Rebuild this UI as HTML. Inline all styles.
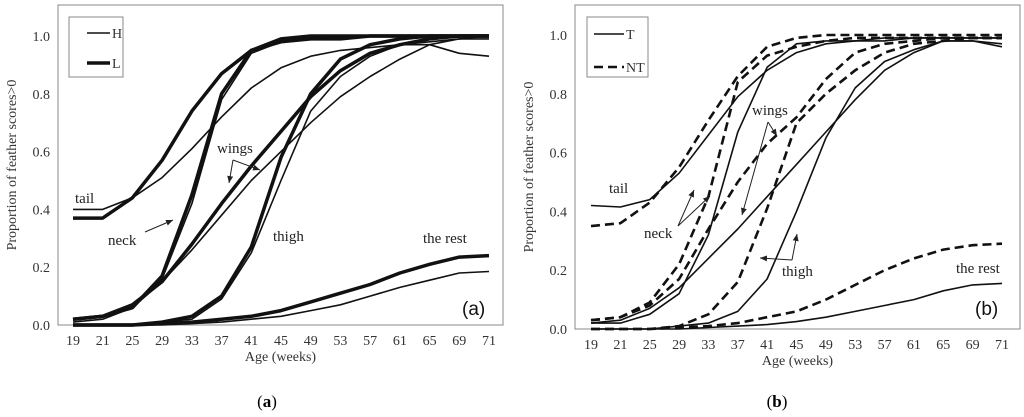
<!DOCTYPE html>
<html><head><meta charset="utf-8"><style>
html,body{margin:0;padding:0;background:#fff;}
svg{display:block;font-family:"Liberation Serif",serif;}
.t{fill:#333;font-size:14px;}
.ann{fill:#222;font-size:15px;}
</style></head><body>
<svg id="s" width="1024" height="417" viewBox="0 0 1024 417">
<defs><marker id="ar" markerWidth="8" markerHeight="8" refX="7" refY="4" orient="auto"><path d="M0,1 L7,4 L0,7Z" fill="#222"/></marker></defs>
</svg>
<script>
const categories=["19","21","25","29","33","37","41","45","49","53","57","61","65","69","71"];
const yTicks=[0,0.2,0.4,0.6,0.8,1.0];
// panel a
const aTailH=[0.40,0.40,0.44,0.51,0.61,0.72,0.82,0.89,0.93,0.95,0.96,0.97,0.97,0.94,0.93];
const aTailL=[0.37,0.37,0.44,0.57,0.74,0.87,0.95,0.98,0.99,0.99,1,1,1,1,1];
const aNeckL=[0.02,0.03,0.06,0.17,0.45,0.80,0.95,0.99,1,1,1,1,1,1,1];
const aNeckH=[0.02,0.03,0.07,0.16,0.42,0.78,0.94,0.98,0.99,1,1,1,1,1,1];
const aWingsL=[0.02,0.03,0.07,0.15,0.28,0.42,0.55,0.67,0.79,0.88,0.94,0.97,0.99,1,1];
const aWingsH=[0.01,0.02,0.06,0.15,0.26,0.38,0.50,0.60,0.70,0.79,0.86,0.92,0.97,0.99,0.99];
const aThighL=[0,0,0,0.01,0.03,0.10,0.27,0.58,0.80,0.92,0.97,0.99,1,1,1];
const aThighH=[0,0,0,0.01,0.02,0.09,0.25,0.50,0.74,0.86,0.93,0.97,0.98,0.99,1];
const aRestL=[0,0,0,0.005,0.01,0.02,0.03,0.05,0.08,0.11,0.14,0.18,0.21,0.235,0.24];
const aRestH=[0,0,0,0,0.005,0.01,0.02,0.03,0.05,0.07,0.10,0.13,0.155,0.18,0.185];
// panel b
const bTailT=[0.42,0.415,0.44,0.53,0.66,0.79,0.88,0.94,0.97,0.98,0.99,0.99,0.99,0.99,0.99];
const bTailNT=[0.35,0.36,0.43,0.55,0.71,0.86,0.96,0.99,1,1,1,1,1,1,1];
const bNeckT=[0.02,0.02,0.05,0.12,0.32,0.67,0.89,0.97,0.98,0.98,0.98,0.99,0.99,0.99,0.99];
const bNeckNT=[0.03,0.04,0.09,0.22,0.45,0.84,0.93,0.96,0.98,0.99,0.99,0.99,0.99,0.99,0.99];
const bWingsT=[0.02,0.03,0.07,0.14,0.24,0.34,0.45,0.56,0.67,0.78,0.88,0.94,0.98,0.98,0.97];
const bWingsNT=[0.03,0.04,0.08,0.17,0.34,0.50,0.63,0.72,0.85,0.94,0.97,0.98,0.99,0.99,0.99];
const bThighT=[0,0,0,0.01,0.02,0.06,0.17,0.40,0.65,0.82,0.91,0.95,0.98,0.98,0.96];
const bThighNT=[0,0,0,0.01,0.05,0.16,0.41,0.70,0.80,0.88,0.94,0.97,0.98,0.99,0.99];
const bRestT=[0,0,0,0,0.005,0.01,0.015,0.025,0.04,0.06,0.08,0.10,0.13,0.15,0.155];
const bRestNT=[0,0,0,0.005,0.01,0.02,0.04,0.06,0.10,0.15,0.20,0.24,0.27,0.285,0.29];

const S=document.getElementById('s');const NS='http://www.w3.org/2000/svg';
function el(tag,attrs,p){const e=document.createElementNS(NS,tag);for(const k in attrs)e.setAttribute(k,attrs[k]);(p||S).appendChild(e);return e;}
function txt(x,y,s,cls,anchor,p){const t=el('text',{x:x,y:y,class:cls,'text-anchor':anchor||'start'},p);t.textContent=s;return t;}

function panel(P){
  const g=el('g',{});
  
  
  const X=i=>P.x0+i*(P.x1-P.x0)/(categories.length-1);
  const Y=v=>P.y0-v*(P.y0-P.y1);
  const box=el('rect',{x:P.bx,y:5,width:P.bw,height:P.y0-5,fill:'none',stroke:'#888','stroke-width':1},g);
  
  
  yTicks.forEach(v=>{const t=txt(P.bx-8,Y(v)+5,v.toFixed(1),'t','end',g);
    
    });
  categories.forEach((c,i)=>{const t=txt(X(i),P.y0+20,c,'t','middle',g);
    
    });
  const xt=txt((P.bx+P.bx+P.bw)/2,P.y0+36,'Age (weeks)','t','middle',g);
  
  
  const yt=txt(0,0,'Proportion of feather scores>0','t','middle',g);
  yt.setAttribute('transform',`translate(${P.bx-42},${(5+P.y0)/2}) rotate(-90)`);
  
  
  P.series.forEach(s=>{
    const d=s.v.map((v,i)=>(i?'L':'M')+X(i).toFixed(1)+','+Y(v).toFixed(1)).join(' ');
    const pa=el('path',{d:d,fill:'none',stroke:'#111','stroke-width':s.w,'stroke-dasharray':s.dash||'none','stroke-linejoin':'round'},g);
    
    
  });
  return g;
}
panel({name:'panel-a',bx:58,bw:445,x0:73,x1:489,y0:325,y1:36,series:[
 {n:'tail-h',v:aTailH,w:1.6},{n:'tail-l',v:aTailL,w:3.5},
 {n:'neck-h',v:aNeckH,w:1.6},{n:'neck-l',v:aNeckL,w:3.5},
 {n:'wings-h',v:aWingsH,w:1.6},{n:'wings-l',v:aWingsL,w:3.5},
 {n:'thigh-h',v:aThighH,w:1.6},{n:'thigh-l',v:aThighL,w:3.5},
 {n:'rest-h',v:aRestH,w:1.6},{n:'rest-l',v:aRestL,w:3.5}]});
panel({name:'panel-b',bx:575,bw:445,x0:591,x1:1002,y0:329,y1:35,series:[
 {n:'tail-t',v:bTailT,w:1.6},{n:'tail-nt',v:bTailNT,w:2.6,dash:'9,5'},
 {n:'neck-t',v:bNeckT,w:1.6},{n:'neck-nt',v:bNeckNT,w:2.6,dash:'9,5'},
 {n:'wings-t',v:bWingsT,w:1.6},{n:'wings-nt',v:bWingsNT,w:2.6,dash:'9,5'},
 {n:'thigh-t',v:bThighT,w:1.6},{n:'thigh-nt',v:bThighNT,w:2.6,dash:'9,5'},
 {n:'rest-t',v:bRestT,w:1.6},{n:'rest-nt',v:bRestNT,w:2.6,dash:'9,5'}]});
</script>
<svg style="position:absolute;left:0;top:0" width="1024" height="417">
<g>
<rect x="69" y="17" width="54" height="60" fill="#fff" stroke="#888"/>
<line x1="87" y1="33" x2="110" y2="33" stroke="#111" stroke-width="1.6"/><text x="112" y="38" class="t">H</text>
<line x1="87" y1="63" x2="110" y2="63" stroke="#111" stroke-width="3.5"/><text x="112" y="68" class="t">L</text>
</g>
<g>
<rect x="587" y="17" width="61" height="60" fill="#fff" stroke="#888"/>
<line x1="594" y1="34" x2="624" y2="34" stroke="#111" stroke-width="1.6"/><text x="626" y="39" class="t">T</text>
<line x1="594" y1="67" x2="624" y2="67" stroke="#111" stroke-width="2.6" stroke-dasharray="9,5"/><text x="626" y="72" class="t">NT</text>
</g>
<g class="ann">
<text x="75" y="203" class="ann">tail</text>
<text x="108" y="245" class="ann">neck</text>
<line x1="145" y1="232" x2="173" y2="220" stroke="#222" marker-end="url(#ar)"/>
<text x="217" y="153" class="ann">wings</text>
<line x1="233" y1="160" x2="229" y2="183" stroke="#222" marker-end="url(#ar)"/>
<line x1="233" y1="160" x2="260" y2="170" stroke="#222" marker-end="url(#ar)"/>
<text x="273" y="241" class="ann">thigh</text>
<text x="423" y="243" class="ann">the rest</text>
<text x="462" y="315" style="font-family:'Liberation Sans',sans-serif;font-size:19px;fill:#111">(a)</text>
</g>
<g>
<text x="609" y="193" class="ann">tail</text>
<text x="644" y="238" class="ann">neck</text>
<line x1="678" y1="226" x2="694" y2="190" stroke="#222" marker-end="url(#ar)"/>
<line x1="678" y1="226" x2="710" y2="196" stroke="#222" marker-end="url(#ar)"/>
<text x="752" y="115" class="ann">wings</text>
<line x1="768" y1="122" x2="742" y2="215" stroke="#222" marker-end="url(#ar)"/>
<line x1="768" y1="122" x2="777" y2="136" stroke="#222" marker-end="url(#ar)"/>
<text x="782" y="276" class="ann">thigh</text>
<line x1="792" y1="260" x2="797" y2="234" stroke="#222" marker-end="url(#ar)"/>
<line x1="792" y1="260" x2="760" y2="258" stroke="#222" marker-end="url(#ar)"/>
<text x="956" y="273" class="ann">the rest</text>
<text x="975" y="315" style="font-family:'Liberation Sans',sans-serif;font-size:19px;fill:#111">(b)</text>
</g>
<text x="267" y="407" text-anchor="middle" style="font-family:'Liberation Serif',serif;font-size:17px">(<tspan font-weight="bold">a</tspan>)</text>
<text x="777" y="407" text-anchor="middle" style="font-family:'Liberation Serif',serif;font-size:17px">(<tspan font-weight="bold">b</tspan>)</text>
</svg>
</body></html>
